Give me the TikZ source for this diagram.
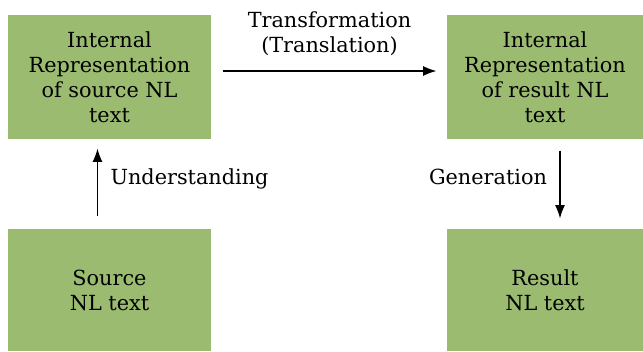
\documentclass[tikz,border=0pt]{standalone}
\usepackage{fontspec}
\setmainfont{DejaVu Serif}
\usetikzlibrary{arrows.meta}
\definecolor{boxgreen}{RGB}{155,188,112}
\begin{document}
\begin{tikzpicture}[x=0.75pt,y=-0.75pt,line width=0.9pt,
	>={Latex[length=10pt,width=7.5pt]},
	every node/.style={font=\fontsize{15.6}{18.75}\selectfont}]
	\useasboundingbox (0,0) rectangle (643,351);
	\begin{scope}[every node/.style={rectangle,fill=boxgreen,align=center,
		inner sep=0pt,font=\fontsize{15.6}{18.75}\selectfont}]
	\node (tl) at (109.5,77) [minimum width=152.25pt,minimum height=93pt]{Internal\\Representation\\of source NL\\text};
	\node (tr) at (545,77) [minimum width=147pt,minimum height=93pt]{Internal\\Representation\\of result NL\\text};
	\node (bl) at (109.5,290) [minimum width=152.25pt,minimum height=91.5pt]{Source\\NL text};
	\node (br) at (545,290) [minimum width=147pt,minimum height=91.5pt]{Result\\NL text};
	\end{scope}
	
	\draw[->] ([shift={(11,-6)}]tl.east) -- node[above=8pt,align=center]{Transformation\\(Translation)} ([shift={(-10,-6)}]tr.west);
	\draw[->] ([shift={(-12,-12)}]bl.north) -- node[right=6pt,yshift=3pt]{Understanding} ([shift={(-12,9)}]tl.south);
	\draw[->] ([shift={(15,11)}]tr.south) -- node[left=6pt,yshift=5.5pt]{Generation} ([shift={(15,-10)}]br.north);
\end{tikzpicture}
\end{document}
